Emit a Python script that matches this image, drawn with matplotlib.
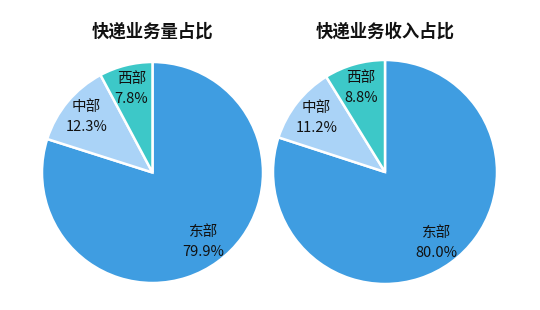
import matplotlib
matplotlib.use("Agg")
import matplotlib.pyplot as plt

plt.rcParams['font.family'] = ['Noto Sans CJK SC', 'DejaVu Sans']

regions = ["东部", "中部", "西部"]
volume_share = [79.9, 12.3, 7.8]
revenue_share = [80.0, 11.2, 8.8]
titles = ["快递业务量占比", "快递业务收入占比"]
colors = ["#3f9de1", "#aad3f7", "#3dc8c8"]

fig = plt.figure(figsize=(5.4, 3.1), dpi=100)
fig.patch.set_facecolor("white")

# axes boxes in figure fractions: [left, bottom, width, height]
boxes = [[42/540, 27/310, 221/540, 221/310],
         [273/540, 26/310, 224/540, 224/310]]
title_x = [153/540, 385/540]

for box, tx, title, vals in zip(boxes, title_x, titles, [volume_share, revenue_share]):
    ax = fig.add_axes(box)
    labels = [f"{r}\n{v:.1f}%" for r, v in zip(regions, vals)]
    wedges, texts = ax.pie(vals, labels=labels, colors=colors, startangle=90,
                           counterclock=False, labeldistance=0.78,
                           wedgeprops=dict(edgecolor="white", linewidth=1.8),
                           textprops=dict(fontsize=10.5, color="#111111",
                                          ha="center", va="center",
                                          linespacing=1.55))
    ax.set_xlim(-1.0, 1.0)
    ax.set_ylim(-1.0, 1.0)
    ax.axis("off")
    fig.text(tx, 1 - 32/310, title, ha="center", va="center",
             fontsize=12.5, fontweight="bold", color="#111111")

fig.savefig("out.png", dpi=100)
